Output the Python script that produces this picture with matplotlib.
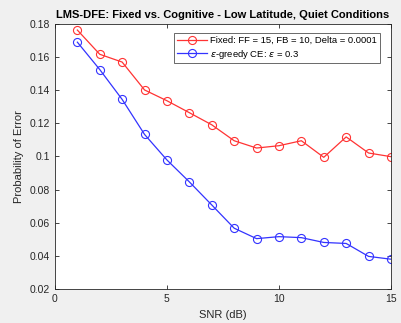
import matplotlib.pyplot as plt

snr = [1, 2, 3, 4, 5, 6, 7, 8, 9, 10, 11, 12, 13, 14, 15]
fixed_pe = [0.1761, 0.1615, 0.1568, 0.1400, 0.1335, 0.1263, 0.1190, 0.1094, 0.1050,
            0.1064, 0.1094, 0.0994, 0.1117, 0.1020, 0.0998]
greedy_pe = [0.1688, 0.1523, 0.1343, 0.1132, 0.0978, 0.0846, 0.0707, 0.0567, 0.0504,
             0.0516, 0.0510, 0.0481, 0.0475, 0.0397, 0.0380]

plt.rcParams["font.family"] = "Liberation Sans"

fig = plt.figure(figsize=(4.01, 3.23), dpi=100, facecolor="#f0f0f0")
ax = fig.add_axes([0.137, 0.105, 0.838, 0.822])

ax.plot(snr, fixed_pe, color="#ff3333", marker="o", mfc="none", ms=5.8, lw=0.9, mew=0.8,
        label="Fixed: FF = 15, FB = 10, Delta = 0.0001")
ax.plot(snr, greedy_pe, color="#3333ff", marker="o", mfc="none", ms=5.8, lw=0.9, mew=0.8,
        label=r"$\epsilon$-greedy CE: $\epsilon$ = 0.3")

ax.set_xlim(0, 15)
ax.set_ylim(0.02, 0.18)
ax.set_xticks([0, 5, 10, 15])
ax.set_yticks([0.02, 0.04, 0.06, 0.08, 0.1, 0.12, 0.14, 0.16, 0.18])
ax.set_yticklabels(["0.02", "0.04", "0.06", "0.08", "0.1", "0.12", "0.14", "0.16", "0.18"])
ax.tick_params(direction="in", top=True, right=True, labelsize=7.5, colors="#262626",
               length=3, width=0.6)
for s in ax.spines.values():
    s.set_color("#262626")
    s.set_linewidth(0.6)

ax.set_xlabel("SNR (dB)", fontsize=8, color="#262626")
ax.set_ylabel("Probability of Error", fontsize=8, color="#262626")
ax.set_title("LMS-DFE: Fixed vs. Cognitive - Low Latitude, Quiet Conditions",
             fontsize=8, fontweight="bold", pad=4)

leg = ax.legend(loc="upper right", fontsize=6.8, frameon=True, fancybox=False,
                edgecolor="#262626", handlelength=3.1, borderpad=0.3, labelspacing=0.25,
                handletextpad=0.4, borderaxespad=0, bbox_to_anchor=(0.967, 0.963))
leg.get_frame().set_linewidth(0.6)

fig.savefig("out.png", dpi=100, facecolor=fig.get_facecolor())
